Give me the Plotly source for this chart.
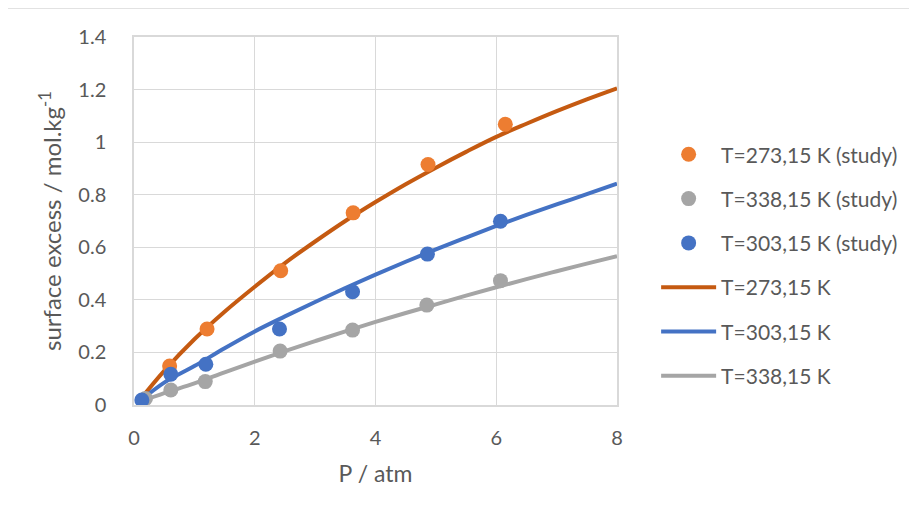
import plotly.graph_objects as go

# measured points (study)
p_273 = [0.59, 1.21, 2.43, 3.63, 4.87, 6.15]
q_273 = [0.148, 0.289, 0.511, 0.731, 0.915, 1.068]
p_338 = [0.19, 0.61, 1.18, 2.42, 3.62, 4.85, 6.07]
q_338 = [0.025, 0.057, 0.089, 0.205, 0.285, 0.380, 0.473]
p_303 = [0.13, 0.61, 1.19, 2.41, 3.62, 4.86, 6.07]
q_303 = [0.019, 0.117, 0.155, 0.289, 0.431, 0.574, 0.699]

# fitted curves
p_fit = [0.1, 0.5, 1, 1.5, 2, 2.5, 3, 3.5, 4, 4.5, 5, 5.5, 6, 6.5, 7, 7.5, 8]
fit_273 = [0.02, 0.13, 0.25, 0.355, 0.45, 0.54, 0.622, 0.70, 0.772, 0.84, 0.903,
           0.963, 1.02, 1.07, 1.118, 1.163, 1.205]
fit_303 = [0.015, 0.085, 0.148, 0.216, 0.28, 0.337, 0.392, 0.445, 0.496, 0.545,
           0.592, 0.637, 0.681, 0.723, 0.763, 0.802, 0.842]
fit_338 = [0.012, 0.045, 0.082, 0.124, 0.165, 0.205, 0.243, 0.280, 0.316, 0.350,
           0.383, 0.416, 0.448, 0.479, 0.509, 0.538, 0.566]

x_ticks = [0, 2, 4, 6, 8]
y_ticks = [0, 0.2, 0.4, 0.6, 0.8, 1, 1.2, 1.4]
y_tick_text = ["0", "0.2", "0.4", "0.6", "0.8", "1", "1.2", "1.4"]

FONT = "Lato"
TXT = "#595959"

fig = go.Figure()

fig.add_trace(go.Scatter(x=p_fit, y=fit_273, mode="lines", name="T=273,15 K",
                         line=dict(color="#C55A11", width=4, shape="spline", smoothing=1),
                         legendgroup="d", legendrank=4))
fig.add_trace(go.Scatter(x=p_fit, y=fit_303, mode="lines", name="T=303,15 K",
                         line=dict(color="#4472C4", width=4, shape="spline", smoothing=1),
                         legendgroup="e", legendrank=5))
fig.add_trace(go.Scatter(x=p_fit, y=fit_338, mode="lines", name="T=338,15 K",
                         line=dict(color="#A5A5A5", width=4, shape="spline", smoothing=1),
                         legendgroup="f", legendrank=6))

fig.add_trace(go.Scatter(x=p_273, y=q_273, mode="markers", name="T=273,15 K (study)",
                         marker=dict(color="#ED7D31", size=15),
                         legendgroup="a", legendrank=1))
fig.add_trace(go.Scatter(x=p_338, y=q_338, mode="markers", name="T=338,15 K (study)",
                         marker=dict(color="#A5A5A5", size=15),
                         legendgroup="b", legendrank=2))
fig.add_trace(go.Scatter(x=p_303, y=q_303, mode="markers", name="T=303,15 K (study)",
                         marker=dict(color="#4472C4", size=15),
                         legendgroup="c", legendrank=3))

fig.update_layout(
    width=917, height=517,
    margin=dict(l=126, r=308, t=29, b=120, autoexpand=False),
    paper_bgcolor="white", plot_bgcolor="white",
    font=dict(family=FONT, size=20, color=TXT),
    legend=dict(x=1.081, xanchor="left", y=0.38, yanchor="middle",
                font=dict(family=FONT, size=21, color=TXT),
                tracegroupgap=14, itemwidth=55, bgcolor="rgba(0,0,0,0)"),
    showlegend=True,
)
fig.update_xaxes(range=[0, 8], tickvals=x_ticks, showgrid=True, gridcolor="#D9D9D9",
                 gridwidth=1, zeroline=False, showline=True, mirror=True,
                 linecolor="#D9D9D9", linewidth=1.5, ticks="", ticklabelstandoff=14,
                 tickfont=dict(size=20, color=TXT), automargin=False,
                 title=dict(text="P / atm", font=dict(size=23, color=TXT), standoff=18))
fig.update_yaxes(range=[0, 1.4], tickvals=y_ticks, ticktext=y_tick_text, showgrid=True,
                 gridcolor="#D9D9D9", gridwidth=1, zeroline=False, showline=True,
                 mirror=True, linecolor="#D9D9D9", linewidth=1.5, ticks="",
                 ticklabelstandoff=22, tickfont=dict(size=20, color=TXT), automargin=False,
                 title=dict(text="surface excess / mol.kg<sup>-1</sup>",
                            font=dict(size=24, color=TXT), standoff=10))

# outer chart border
fig.add_shape(type="rect", xref="paper", yref="paper",
              x0=(6 - 134) / 483, x1=(940 - 134) / 483,
              y0=(405 - 540) / 368, y1=(405 - 8) / 368,
              line=dict(color="#D9D9D9", width=1.5), fillcolor="rgba(0,0,0,0)",
              layer="below")

fig.write_html("out.html")
